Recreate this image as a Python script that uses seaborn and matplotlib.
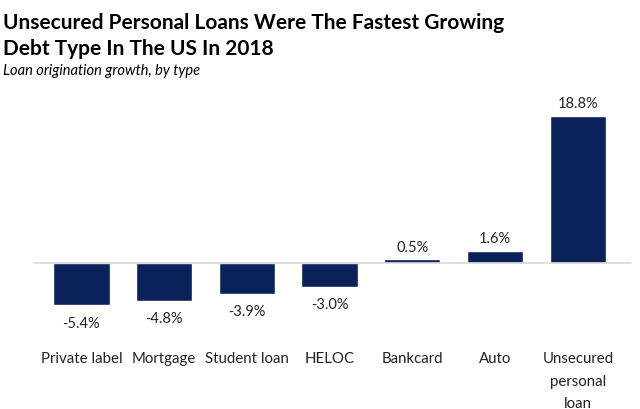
import seaborn as sns
import pandas as pd
from matplotlib import pyplot as plt

# data
loan_types = ["Private label", "Mortgage", "Student loan", "HELOC",
              "Bankcard", "Auto", "Unsecured\npersonal\nloan"]
growth = [-5.4, -4.8, -3.9, -3.0, 0.5, 1.6, 18.8]

BAR_COLOR = "#0b215a"


def main():
    sns.set_theme(style="white")
    plt.rcParams["font.family"] = ["Lato", "DejaVu Sans"]

    df = pd.DataFrame({"type": loan_types, "growth": growth})

    fig = plt.figure(figsize=(6.4, 4.1), dpi=100)
    ax = fig.add_axes([0.0625, 0.195, 0.905, 0.573])
    sns.barplot(data=df, x="type", y="growth", color=BAR_COLOR,
                saturation=1, width=0.68, ax=ax)

    for bar, v in zip(ax.patches, growth):
        x = bar.get_x() + bar.get_width() / 2
        if v >= 0:
            ax.annotate(f"{v:.1f}%", (x, v), xytext=(0, 4), textcoords="offset points",
                        ha="center", va="bottom", fontsize=10.5, color="#222222")
        else:
            ax.annotate(f"{v:.1f}%", (x, v), xytext=(0, -7.5), textcoords="offset points",
                        ha="center", va="top", fontsize=10.5, color="#222222")

    ax.axhline(0, color="#d9d9d9", linewidth=1.2, xmin=-0.01, xmax=1.02, clip_on=False)
    ax.set_xlim(-0.5, 6.5)
    ax.set_ylim(-8.44, 21.6)
    ax.set_yticks([])
    ax.set_xlabel("")
    ax.set_ylabel("")
    ax.tick_params(axis="x", length=0, pad=16, labelsize=10.8, colors="#222222")
    for lbl in ax.get_xticklabels():
        lbl.set_verticalalignment("top")
        lbl.set_linespacing(1.75)
    sns.despine(ax=ax, left=True, bottom=True)

    fig.text(0.005, 0.93, "Unsecured Personal Loans Were The Fastest Growing",
             fontsize=15, fontweight="bold", color="black")
    fig.text(0.005, 0.865, "Debt Type In The US In 2018",
             fontsize=15, fontweight="bold", color="black")
    fig.text(0.005, 0.817, "Loan origination growth, by type",
             fontsize=10.5, style="italic", color="black")

    plt.savefig("out.png", dpi=100)


if __name__ == "__main__":
    main()
